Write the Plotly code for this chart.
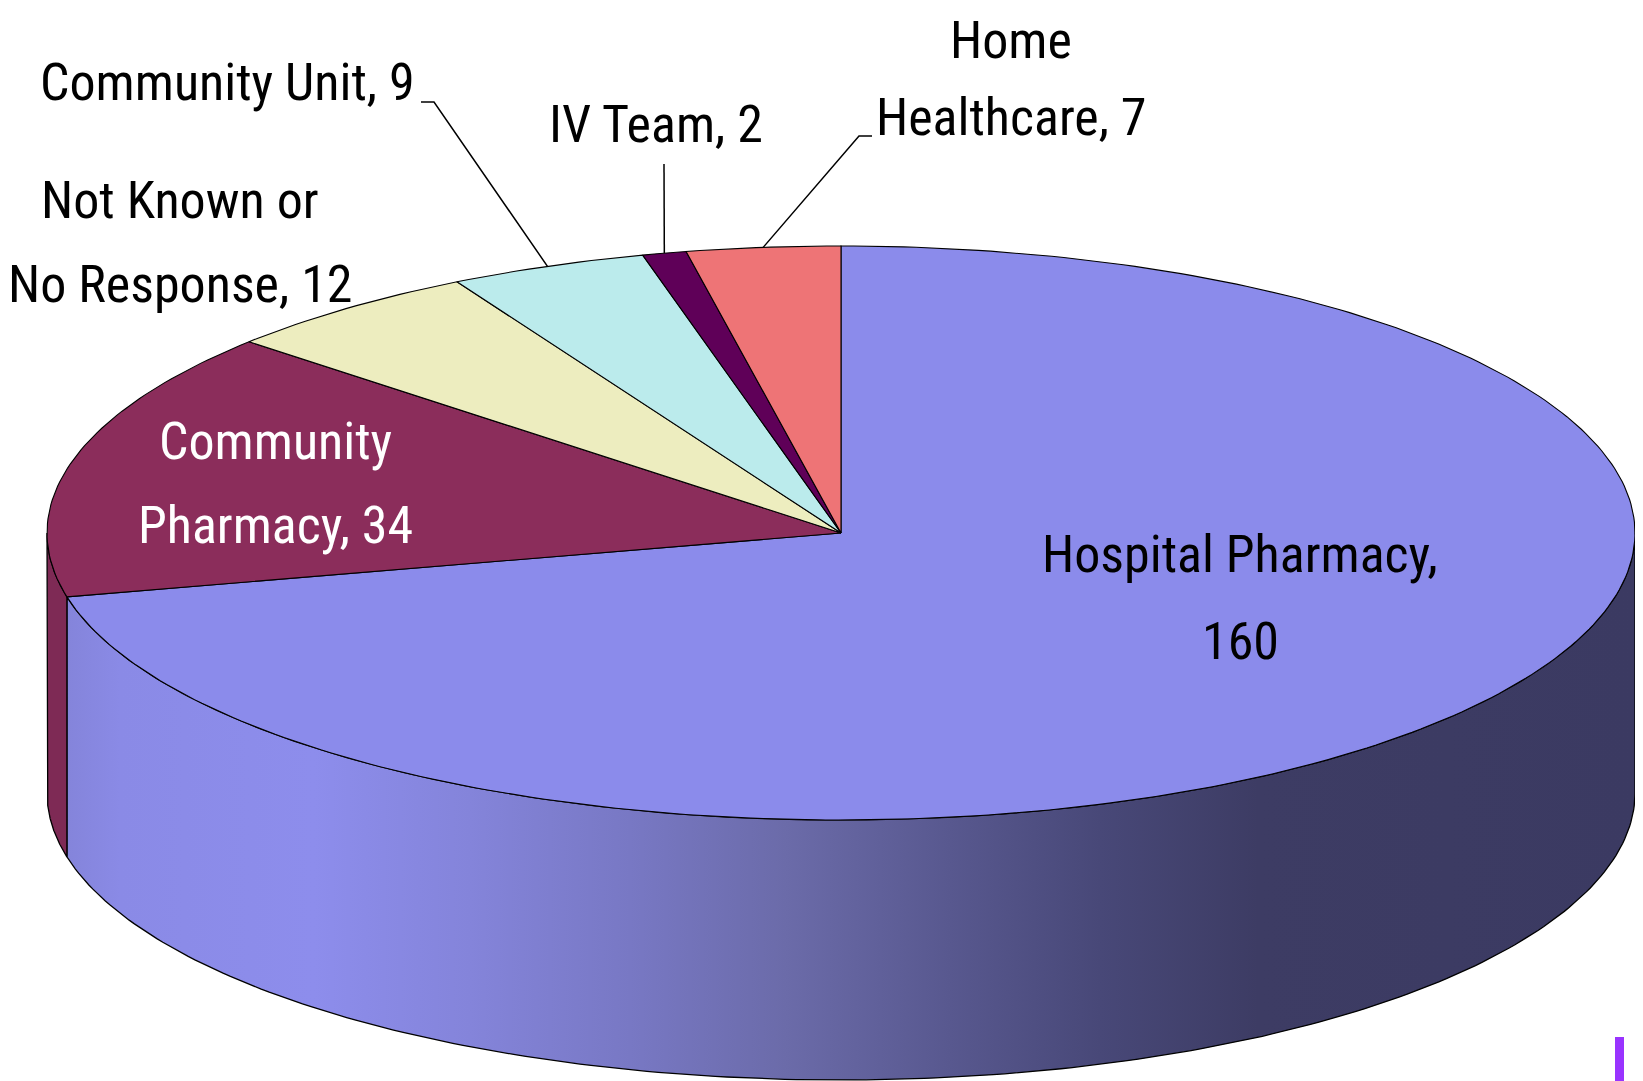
import numpy as np
import plotly.graph_objects as go

# ---------------- data ----------------
categories = ["Hospital Pharmacy", "Community Pharmacy", "Not Known or No Response",
              "Community Unit", "IV Team", "Home Healthcare"]
values = [160, 34, 12, 9, 2, 7]
# number of words on the first line of each label (0 = single line)
label_break_after = [2, 1, 3, 0, 0, 1]

# ---------------- style / layout ----------------
W, H = 1643, 1081
BODY = 8  # default page margin of the html body
CX, CY, RX, RY, DEPTH = 841, 533, 794, 287, 260
top_colors = ["#8B8BEB", "#8B2D5B", "#EDEDBF", "#BBEBEC", "#5F0058", "#EE7476"]
side_colors = [None, "#7E2A55", "#D5D5AC", "#A8D4D5", "#55004F", "#D6686A"]
label_colors = ["black", "white", "black", "black", "black", "black"]
# (x centre, [y centre of each line]) for each label
label_pos = [(1240, [554, 641]), (275, [441, 525]), (180, [200, 284]),
             (227, [82]), (656, [124]), (1011, [40, 117])]
FONT = "Liberation Sans Narrow, Arial Narrow, Roboto Condensed, Liberation Sans, sans-serif"
FONT_SIZE = 52
# leader lines: (slice index, label-side elbow point, label end point)
leaders = [(3, (434, 102), (421, 102)), (4, (664, 164), None), (5, (859, 136), (872, 136))]

side_grad = [(47, "#8282D6"), (120, "#8A8AE6"), (314, "#8D8DEC"), (470, "#8484DA"),
             (630, "#7878C4"), (786, "#6B6BA9"), (950, "#58588F"), (1100, "#484878"),
             (1258, "#3D3C64"), (1635, "#3B3A62")]


def pt(theta, dy=0.0):
    return CX + RX * np.sin(theta), CY - RY * np.cos(theta) + dy


def label_text(i):
    words = f"{categories[i]}, {values[i]}".split(" ")
    k = label_break_after[i]
    if k == 0:
        return [" ".join(words)]
    return [" ".join(words[:k]), " ".join(words[k:])]


total = float(sum(values))
cum = np.concatenate([[0.0], np.cumsum(values)]) / total * 2 * np.pi

fig = go.Figure()

# ---- sides (front half of the cylinder) ----
for i in range(len(values)):
    a = max(cum[i], np.pi / 2)
    b = min(cum[i + 1], 3 * np.pi / 2)
    if b <= a:
        continue
    th = np.linspace(a, b, 200)
    xt, yt = pt(th)
    xb, yb = pt(th[::-1], DEPTH)
    xs = np.concatenate([xt, xb, xt[:1]])
    ys = np.concatenate([yt, yb, yt[:1]])
    kw = {}
    if i == 0:
        x0, x1 = side_grad[0][0], side_grad[-1][0]
        cs = [[(x - x0) / (x1 - x0), c] for x, c in side_grad]
        kw["fillgradient"] = dict(type="horizontal", colorscale=cs, start=x0, stop=x1)
    else:
        kw["fillcolor"] = side_colors[i]
    fig.add_trace(go.Scatter(x=xs, y=ys, mode="lines", fill="toself",
                             line=dict(color="black", width=1.3),
                             hoverinfo="skip", showlegend=False, **kw))

# ---- top face slices ----
for i in range(len(values)):
    n = max(4, int(400 * values[i] / total))
    th = np.linspace(cum[i], cum[i + 1], n)
    xa, ya = pt(th)
    xs = np.concatenate([[CX], xa, [CX]])
    ys = np.concatenate([[CY], ya, [CY]])
    fig.add_trace(go.Scatter(x=xs, y=ys, mode="lines", fill="toself",
                             fillcolor=top_colors[i],
                             line=dict(color="black", width=1.1),
                             name=categories[i], hoverinfo="name", showlegend=False))

# ---- leader lines ----
for idx, elbow, end in leaders:
    mid = (cum[idx] + cum[idx + 1]) / 2
    sx, sy = pt(mid)
    xs, ys = [sx, elbow[0]], [sy, elbow[1]]
    if end is not None:
        xs.append(end[0]); ys.append(end[1])
    fig.add_trace(go.Scatter(x=xs, y=ys, mode="lines", line=dict(color="black", width=1.5),
                             hoverinfo="skip", showlegend=False))

# ---- labels ----
for i in range(len(values)):
    lx, lys = label_pos[i]
    for line, ly in zip(label_text(i), lys):
        fig.add_annotation(x=lx, y=ly, text=line, showarrow=False,
                           xanchor="center", yanchor="middle",
                           font=dict(family=FONT, size=FONT_SIZE, color=label_colors[i]))

# small purple mark bottom right
fig.add_shape(type="rect", x0=1615, x1=1624, y0=1037, y1=1081,
              fillcolor="#9933FF", line=dict(width=0))

fig.update_layout(width=W - BODY, height=H - BODY, margin=dict(l=0, r=0, t=0, b=0),
                  paper_bgcolor="white", plot_bgcolor="white",
                  xaxis=dict(range=[BODY, W], visible=False, fixedrange=True),
                  yaxis=dict(range=[H, BODY], visible=False, fixedrange=True))

fig.write_html("out.html")
